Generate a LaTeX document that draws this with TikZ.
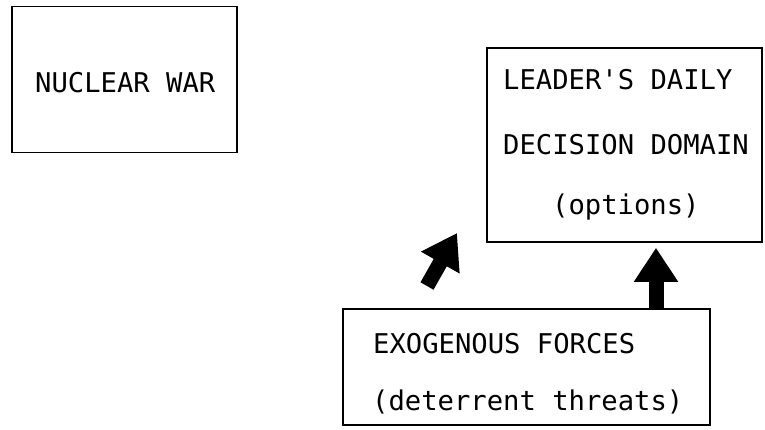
\documentclass[tikz,border=0pt]{standalone}
\usepackage{fontspec}
\setmonofont{DejaVu Sans Mono}
\usetikzlibrary{arrows.meta}
\tikzset{
  box/.style={draw=black, line width=1.6pt, rectangle, inner sep=0pt},
  lbl/.style={anchor=base west, inner sep=0pt, font=\ttfamily\fontsize{27.2}{30}\selectfont},
  fatarrow/.style={line width=15pt, -{Triangle[length=34pt,width=42pt]}}
}
\begin{document}
\begin{tikzpicture}[x=1pt,y=-1pt]
\useasboundingbox (0,0) rectangle (765,430);
% boxes
\node[box, minimum width=225pt, minimum height=146pt] (nw) at (124.5,79.5) {};
\node[box, minimum width=275pt, minimum height=194pt] (ld) at (624.5,145) {};
\node[box, minimum width=367pt, minimum height=116pt] (ex) at (526.5,367) {};
% texts
\node[lbl] (t1) at (35,93) {NUCLEAR WAR};
\node[lbl] (t2) at (503,90) {LEADER'S DAILY};
\node[lbl] (t3) at (503,155) {DECISION DOMAIN};
\node[lbl] (t4) at (552,215) {(options)};
\node[lbl] (t5) at (373,353) {EXOGENOUS FORCES};
\node[lbl] (t6) at (372,410) {(deterrent threats)};
% arrows
\coordinate (vs) at (ex.north -| 656,0);
\coordinate (vt) at (ld.south -| 656,0);
\draw[fatarrow, shorten >=5pt] (vs) -- (vt);
\coordinate (ds) at (427,286);
\coordinate (dt) at (457,233);
\draw[fatarrow] (ds) -- (dt);
\end{tikzpicture}
\end{document}
